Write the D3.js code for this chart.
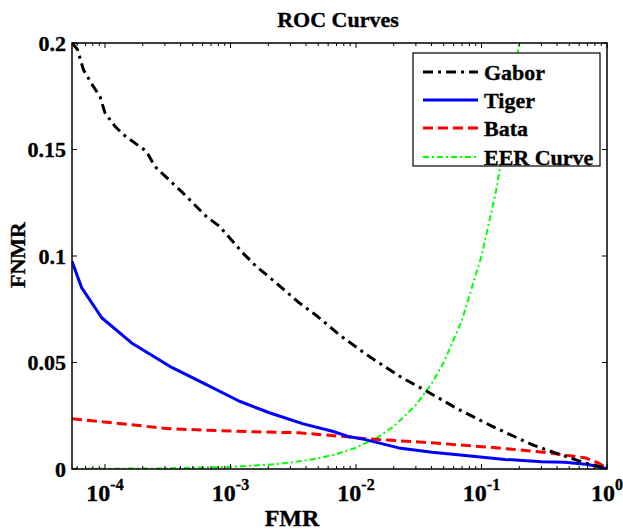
<!DOCTYPE html>
<html><head><meta charset="utf-8">
<script src="https://cdn.jsdelivr.net/npm/d3@7"></script>
<style>body{margin:0;background:#fff}svg{display:block}text{font-family:"Liberation Serif","Times New Roman",serif;font-weight:bold;fill:#000;stroke:#000;stroke-width:0.35px}</style>
</head><body><div id="chart"></div>
<script>
// ---- data ----
const title = "ROC Curves";
const xLabel = "FMR";
const yLabel = "FNMR";
const seriesNames = ["Gabor", "Tiger", "Bata", "EER Curve"];
const xTickExponents = [-4, -3, -2, -1, 0];
const yTickValues = [0, 0.05, 0.1, 0.15, 0.2];
const yTickLabels = ["0", "0.05", "0.1", "0.15", "0.2"];

const gaborFMR = [5.46e-5, 6.03e-5, 6.73e-5, 8.07e-5, 9.12e-5, 1.0e-4, 1.20e-4, 1.40e-4, 2.14e-4, 2.49e-4, 4.18e-4, 6.41e-4, 8.18e-4, 1.25e-3, 1.60e-3, 2.31e-3, 3.53e-3, 4.93e-3, 7.33e-3, 0.0127, 0.0233, 0.0347, 0.0656, 0.121, 0.251, 0.385, 0.665, 0.959, 1.0];
const gaborFNMR = [0.200, 0.197, 0.1875, 0.1796, 0.1749, 0.1672, 0.1609, 0.1570, 0.1491, 0.1421, 0.1296, 0.1186, 0.1139, 0.1015, 0.0952, 0.0874, 0.0780, 0.0717, 0.0631, 0.0529, 0.0428, 0.0373, 0.0280, 0.0201, 0.0115, 0.0076, 0.0029, 0.0006, 0.0];

const tigerFMR = [5.46e-5, 6.53e-5, 9.42e-5, 1.63e-4, 3.28e-4, 6.03e-4, 1.18e-3, 2.04e-3, 3.8e-3, 6.49e-3, 8.53e-3, 0.0119, 0.0219, 0.0404, 0.0743, 0.154, 0.301, 0.461, 0.706, 1.0];
const tigerFNMR = [0.0975, 0.0850, 0.0710, 0.0592, 0.0482, 0.0404, 0.0318, 0.0264, 0.0212, 0.0177, 0.0154, 0.0138, 0.0099, 0.0079, 0.0063, 0.0045, 0.0034, 0.0032, 0.0021, 0.0002];

const bataFMR = [5.46e-5, 3.28e-4, 1.11e-3, 3.50e-3, 8.53e-3, 0.0119, 0.0404, 0.136, 0.340, 0.665, 0.849, 1.0];
const bataFNMR = [0.0236, 0.0189, 0.0177, 0.0170, 0.0151, 0.0142, 0.0123, 0.0099, 0.0076, 0.0053, 0.0029, 0.0004];

const eerFMR = [5.46e-5, 1e-4, 3e-4, 1e-3, 2e-3, 3e-3, 5e-3, 7e-3, 0.01, 0.015, 0.02, 0.03, 0.04, 0.05, 0.07, 0.1, 0.13, 0.16, 0.2, 0.22];
const eerFNMR = [5.46e-5, 1e-4, 3e-4, 1e-3, 2e-3, 3e-3, 5e-3, 7e-3, 0.01, 0.015, 0.02, 0.03, 0.04, 0.05, 0.07, 0.1, 0.13, 0.16, 0.2, 0.22];

// ---- layout ----
const W = 623, H = 530;
const L = 72, R = 607, T = 43, B = 469;

const svg = d3.select("#chart").append("svg").attr("width", W).attr("height", H);

const x = d3.scaleLog().domain([5.46e-5, 1]).range([L, R]);
const y = d3.scaleLinear().domain([0, 0.2]).range([B, T]);

svg.append("defs").append("clipPath").attr("id", "clip")
  .append("rect").attr("x", L).attr("y", T).attr("width", R - L).attr("height", B - T);

// title
svg.append("text").attr("x", 338).attr("y", 27).attr("text-anchor", "middle")
  .attr("font-size", 22).text(title);

// series
const series = [
  {name: seriesNames[0], fx: gaborFMR, fy: gaborFNMR, color: "#000000", w: 3, dash: "10,5,3,5"},
  {name: seriesNames[1], fx: tigerFMR, fy: tigerFNMR, color: "#0000ff", w: 3, dash: null},
  {name: seriesNames[2], fx: bataFMR, fy: bataFNMR, color: "#ff0000", w: 3, dash: "10,5"},
  {name: seriesNames[3], fx: eerFMR, fy: eerFNMR, color: "#00ff00", w: 2, dash: "6,3,2,3"}
];
const line = d3.line().x(d => x(d[0])).y(d => y(d[1]));
const gLines = svg.append("g").attr("clip-path", "url(#clip)");
[3, 2, 1, 0].forEach(i => {
  const s = series[i];
  gLines.append("path")
    .datum(s.fx.map((v, k) => [v, s.fy[k]]))
    .attr("d", line).attr("fill", "none")
    .attr("stroke", s.color).attr("stroke-width", s.w)
    .attr("stroke-dasharray", s.dash)
    .attr("stroke-linejoin", "round");
});

// axes frame
svg.append("rect").attr("x", L).attr("y", T).attr("width", R - L).attr("height", B - T)
  .attr("fill", "none").attr("stroke", "#000").attr("stroke-width", 1.5);

// x ticks (inside, top & bottom)
const xt = x.ticks().filter(v => v >= x.domain()[0] && v <= 1);
xt.forEach(v => {
  const major = Math.abs(Math.log10(v) - Math.round(Math.log10(v))) < 1e-9;
  const len = major ? 5 : 3;
  svg.append("line").attr("x1", x(v)).attr("x2", x(v)).attr("y1", B).attr("y2", B - len)
    .attr("stroke", "#000").attr("stroke-width", 1);
  svg.append("line").attr("x1", x(v)).attr("x2", x(v)).attr("y1", T).attr("y2", T + len)
    .attr("stroke", "#000").attr("stroke-width", 1);
});
// x tick labels
xTickExponents.forEach(e => {
  const t = svg.append("text").attr("x", x(Math.pow(10, e))).attr("y", 501)
    .attr("text-anchor", "middle").attr("font-size", 24);
  t.append("tspan").text("10");
  t.append("tspan").attr("dy", -11).attr("font-size", 16).text(String(e));
});

// y ticks (inside, left & right)
yTickValues.forEach((v, i) => {
  svg.append("line").attr("x1", L).attr("x2", L + 5).attr("y1", y(v)).attr("y2", y(v))
    .attr("stroke", "#000").attr("stroke-width", 1);
  svg.append("line").attr("x1", R).attr("x2", R - 5).attr("y1", y(v)).attr("y2", y(v))
    .attr("stroke", "#000").attr("stroke-width", 1);
  svg.append("text").attr("x", 66).attr("y", y(v)).attr("dy", "0.35em")
    .attr("text-anchor", "end").attr("font-size", 22).text(yTickLabels[i]);
});

// axis labels
svg.append("text").attr("x", 292).attr("y", 526).attr("text-anchor", "middle")
  .attr("font-size", 24).text(xLabel);
svg.append("text").attr("transform", "translate(25,255) rotate(-90)")
  .attr("text-anchor", "middle").attr("font-size", 22).text(yLabel);

// legend
const lg = svg.append("g");
lg.append("rect").attr("x", 413).attr("y", 53).attr("width", 187).attr("height", 113)
  .attr("fill", "#fff").attr("stroke", "#000").attr("stroke-width", 1.2);
const ly = [72, 100, 128, 157];
series.forEach((s, i) => {
  lg.append("line").attr("x1", 423).attr("x2", 478).attr("y1", ly[i]).attr("y2", ly[i])
    .attr("stroke", s.color).attr("stroke-width", s.w).attr("stroke-dasharray", s.dash);
  lg.append("text").attr("x", 484).attr("y", ly[i]).attr("dy", "0.35em")
    .attr("font-size", 22).text(s.name);
});
</script>
</body></html>
